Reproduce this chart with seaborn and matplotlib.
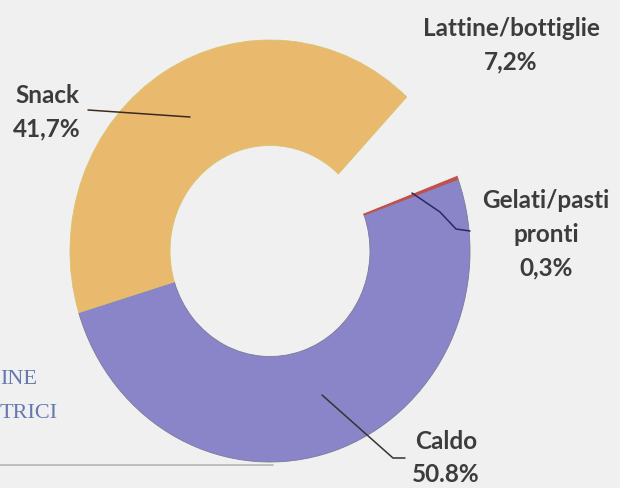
import numpy as np
import matplotlib
matplotlib.use("Agg")
import matplotlib.pyplot as plt
import seaborn as sns

# dati del grafico
categorie = ['Caldo', 'Gelati/pasti\npronti', 'Lattine/bottiglie', 'Snack']
valori = [50.8, 0.3, 7.2, 41.7]
etichette = ['Caldo\n50.8%', 'Gelati/pasti\npronti\n0,3%', 'Lattine/bottiglie\n7,2%', 'Snack\n41,7%']
colori = ['#8A84C8', '#C0504D', '#F0F0F0', '#E9B96E']

sns.set_style('white')
plt.rcParams['font.family'] = ['Lato', 'DejaVu Sans']

BG = '#F0F0F0'
fig = plt.figure(figsize=(6.2, 4.88), dpi=100, facecolor=BG)
ax = fig.add_axes([0, 0, 1, 1], facecolor=BG)

wedges, _ = ax.pie(valori, colors=colori, startangle=197, counterclock=True,
                   radius=1.0, wedgeprops=dict(width=0.5, linewidth=0.6))
wedges[0].set_edgecolor('#7a7a9a')
wedges[1].set_edgecolor('#C0504D')
wedges[2].set_edgecolor(BG)
wedges[3].set_edgecolor('#d9c46e')

ax.set_aspect('auto')
# centro del grafico a (270, 251) px, raggi 200 x 211 px
ax.set_xlim(-270 / 200, (620 - 270) / 200)
ax.set_ylim((251 - 488) / 211, 251 / 211)
ax.axis('off')

def d(px, py):
    return (px - 270) / 200, (251 - py) / 211

# linee guida
for pts, col in [([(88, 110), (190, 117)], '#3a2a20'),
                 ([(412, 193), (440, 212), (456, 229), (470, 231)], '#2a2a60'),
                 ([(322, 395), (393, 458), (405, 458)], '#333333')]:
    xy = np.array([d(*p) for p in pts])
    ax.plot(xy[:, 0], xy[:, 1], color=col, lw=1.1)

txt = dict(fontsize=17.5, fontweight='bold', color='#3c3c3c', ha='center',
           va='center', linespacing=1.55)
pos = {'Caldo\n50.8%': (446, 458), 'Gelati/pasti\npronti\n0,3%': (546, 234),
       'Lattine/bottiglie\n7,2%': (511, 45), 'Snack\n41,7%': (47, 112)}
for lab in etichette:
    x, y = pos[lab]
    fig.text(x / 620, 1 - y / 488, lab, **txt)

# testo laterale tagliato
fig.text(0.0, 1 - 380 / 488, 'INE', fontsize=16, color='#6678B0',
         family='Liberation Serif', ha='left', va='center')
fig.text(0.0, 1 - 414 / 488, 'TRICI', fontsize=16, color='#6678B0',
         family='Liberation Serif', ha='left', va='center')
fig.add_artist(plt.Line2D([0, 273 / 620], [1 - 465 / 488] * 2,
                          color='#B5B5B5', lw=1.2))

fig.savefig('out.png', dpi=100, facecolor=BG)
